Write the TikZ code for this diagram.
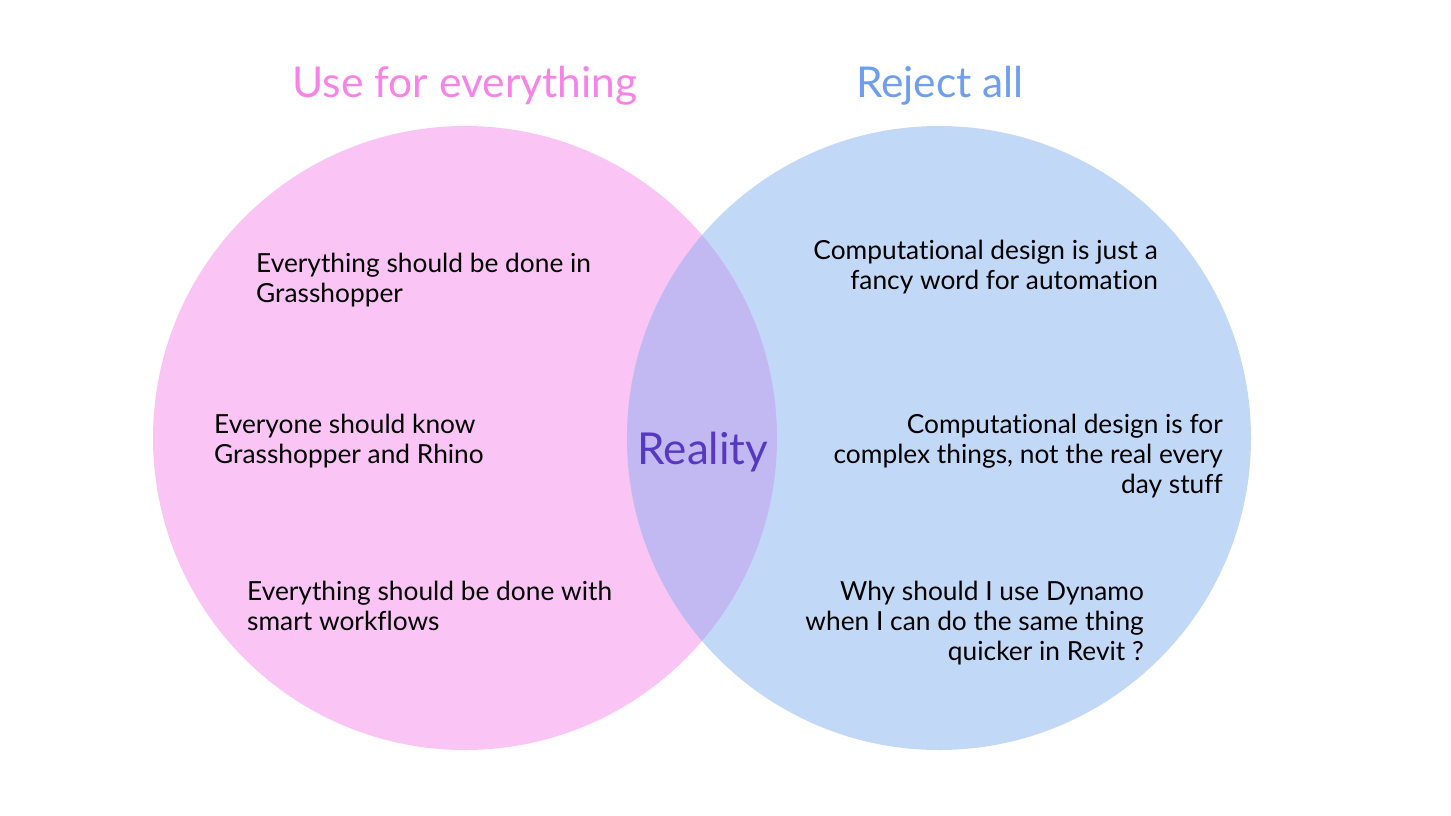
\documentclass[tikz,border=0pt]{standalone}
\usepackage{fontspec}
\setmainfont[Ligatures=NoCommon]{Lato}
\definecolor{pinkfill}{HTML}{FAC4F5}
\definecolor{bluefill}{HTML}{C2D8F7}
\definecolor{mixfill}{HTML}{C2B8F2}
\definecolor{pinktitle}{HTML}{F883E8}
\definecolor{bluetitle}{HTML}{6E9EEE}
\definecolor{realcol}{HTML}{5638C2}
\begin{document}
\begin{tikzpicture}[x=1pt,y=-1pt,
  title/.style={font=\fontsize{42.5}{50}\selectfont},
  body/.style={font=\fontsize{26.3}{30}\selectfont, text=black, inner sep=0pt},
  lefttext/.style={body, anchor=north west, align=left},
  righttext/.style={body, anchor=north east, align=right}]
\useasboundingbox (0,0) rectangle (1451,815);
\fill[pinkfill] (465,438) circle (312);
\fill[bluefill] (939,438) circle (312);
\begin{scope}
  \clip (465,438) circle (312);
  \fill[mixfill] (939,438) circle (312);
\end{scope}
\node[title, text=pinktitle, anchor=base] (t1) at (465,97) {Use for everything};
\node[title, text=bluetitle, anchor=base] (t2) at (940,97) {Reject all};
\node[font=\fontsize{44}{52}\selectfont, text=realcol] (real) at (703,452) {Reality};
\node[lefttext] (l1) at (256,253) {Everything should be done in\\Grasshopper};
\node[lefttext] (l2) at (214,414) {Everyone should know\\Grasshopper and Rhino};
\node[lefttext] (l3) at (247,581) {Everything should be done with\\smart workflows};
\node[righttext] (r1) at (1158,240) {Computational design is just a\\fancy word for automation};
\node[righttext] (r2) at (1223,414) {Computational design is for\\complex things, not the real every\\day stuff};
\node[righttext] (r3) at (1144,581) {Why should I use Dynamo\\when I can do the same thing\\quicker in Revit ?};
\end{tikzpicture}
\end{document}
